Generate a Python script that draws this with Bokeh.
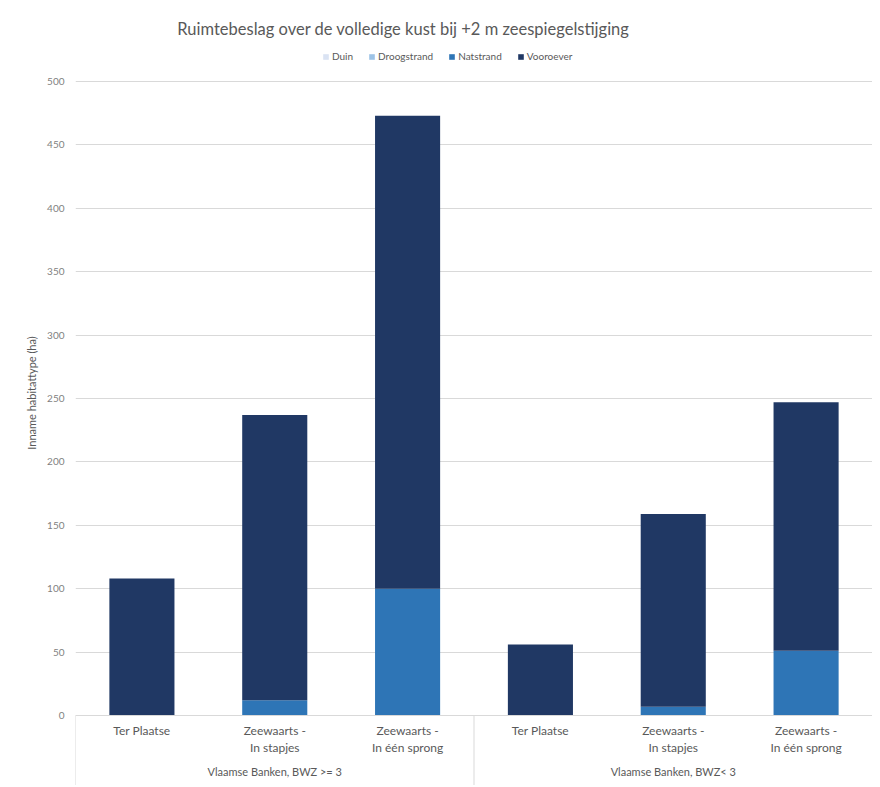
import numpy as np
from bokeh.plotting import figure
from bokeh.models import (ColumnDataSource, FixedTicker, Range1d, Legend, LegendItem, Label)
from bokeh.core.properties import value
from bokeh.embed import file_html
from bokeh.resources import INLINE

# ---- data ----
title_text = "Ruimtebeslag over de volledige kust bij +2 m zeespiegelstijging"
y_label = "Inname habitattype (ha)"
groups = ["Vlaamse Banken, BWZ >= 3", "Vlaamse Banken, BWZ< 3"]
categories = ["Ter Plaatse", "Zeewaarts -\nIn stapjes", "Zeewaarts -\nIn één sprong",
              "Ter Plaatse", "Zeewaarts -\nIn stapjes", "Zeewaarts -\nIn één sprong"]
series = ["Duin", "Droogstrand", "Natstrand", "Vooroever"]
duin = [0, 0, 0, 0, 0, 0]
droogstrand = [0, 0, 0, 0, 0, 0]
natstrand = [0, 12, 100, 0, 7, 51]
vooroever = [108, 225, 373, 56, 152, 196]
y_ticks = [0, 50, 100, 150, 200, 250, 300, 350, 400, 450, 500]
colors = ["#dae3f3", "#9dc3e6", "#2e75b6", "#203864"]

FONT = "Lato"
n = len(categories)
per_group = n // len(groups)
xs = np.arange(n) + 0.5

source = ColumnDataSource(dict(x=xs, Duin=duin, Droogstrand=droogstrand,
                               Natstrand=natstrand, Vooroever=vooroever, cat=categories))

p = figure(width=872, height=785, output_backend="svg", toolbar_location=None,
           x_range=Range1d(0, n), y_range=Range1d(-55.2, 563.9),
           min_border_left=75, min_border_right=0, min_border_top=0, min_border_bottom=0)
p.outline_line_color = None
p.background_fill_color = "white"
p.border_fill_color = "white"

renderers = p.vbar_stack(series, x="x", width=0.49, source=source, color=colors,
                         line_color=None)

# axes
p.xaxis.visible = False
p.xgrid.visible = False
yax = p.yaxis[0]
yax.ticker = FixedTicker(ticks=y_ticks)
yax.axis_line_color = None
yax.major_tick_line_color = None
yax.minor_tick_line_color = None
yax.major_label_standoff = 5
yax.major_label_text_font = FONT
yax.major_label_text_font_size = "10px"
yax.major_label_text_color = "#7f7f7f"
yax.axis_label = y_label
yax.axis_label_text_font = FONT
yax.axis_label_text_font_size = "11px"
yax.axis_label_text_font_style = "normal"
yax.axis_label_text_color = "#595959"
yax.axis_label_standoff = 6
p.ygrid.grid_line_color = "#d9d9d9"
p.ygrid.grid_line_width = 1

# category axis (drawn below zero line)
p.text(x=xs, y=[-6] * n, text=categories, text_align="center", text_baseline="top",
       text_font=value(FONT), text_font_size="12px", text_color="#595959",
       text_line_height=1.15)
gx = [i * per_group + per_group / 2 for i in range(len(groups))]
p.text(x=gx, y=[-44.5] * len(groups), text=groups, text_align="center",
       text_baseline="middle", text_font=value(FONT), text_font_size="11px",
       text_color="#595959")
sep = [i * per_group for i in range(len(groups) + 1)]
p.segment(x0=sep, y0=[0] * len(sep), x1=sep, y1=[-55.2] * len(sep),
          line_color="#d9d9d9", line_width=1)
p.segment(x0=[0], y0=[0], x1=[n], y1=[0], line_color="#d9d9d9", line_width=1)

# title
p.add_layout(Label(x=328, y=757, x_units="screen", y_units="screen", text=title_text,
                   text_align="center", text_baseline="middle",
                   text_font=FONT, text_font_size="16.5px", text_color="#595959"))

# legend
legend = Legend(items=[LegendItem(label=s, renderers=[r]) for s, r in zip(series, renderers)],
                orientation="horizontal", location=(247, 723),
                glyph_width=7, glyph_height=7, label_text_font=FONT,
                label_text_font_size="10px", label_text_color="#595959",
                spacing=15, padding=0, margin=0, label_standoff=3,
                border_line_color=None, background_fill_alpha=0,
                label_height=10)
p.add_layout(legend, "center")

open("out.html", "w").write(file_html(p, INLINE))
